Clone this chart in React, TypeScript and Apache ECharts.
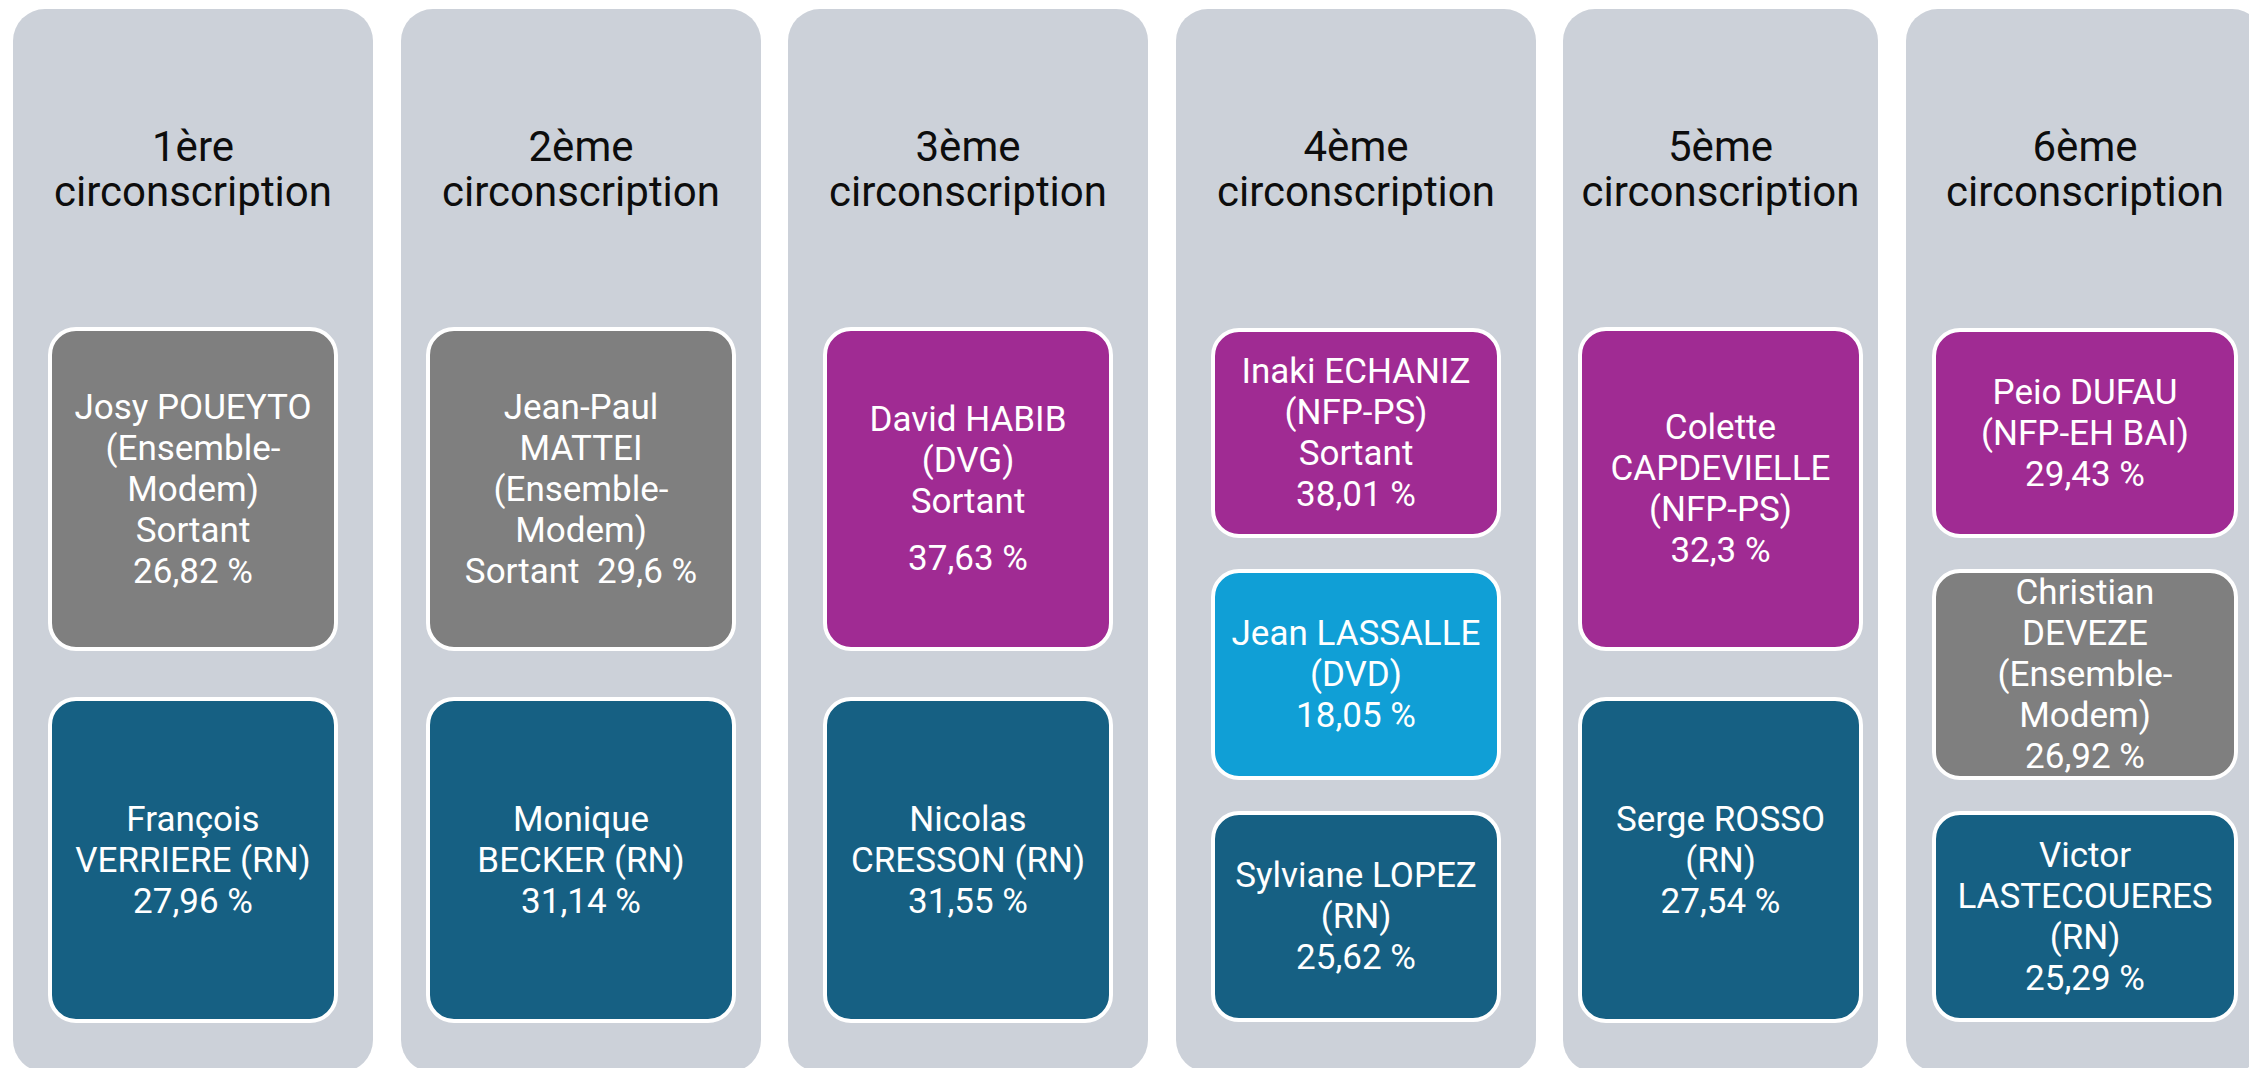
import React, { useEffect, useRef } from "react";
import * as echarts from "echarts";

// ---------- DATA ----------
const ordinals = ["1ère", "2ème", "3ème", "4ème", "5ème", "6ème"];
const districtWord = "circonscription";

// candidate text lines per district ("" = small spacer line)
const district1 = [
  ["Josy POUEYTO", "(Ensemble-", "Modem)", "Sortant", "26,82 %"],
  ["François", "VERRIERE (RN)", "27,96 %"],
];
const district2 = [
  ["Jean-Paul", "MATTEI", "(Ensemble-", "Modem)", "Sortant  29,6 %"],
  ["Monique", "BECKER (RN)", "31,14 %"],
];
const district3 = [
  ["David HABIB", "(DVG)", "Sortant", "", "37,63 %"],
  ["Nicolas", "CRESSON (RN)", "31,55 %"],
];
const district4 = [
  ["Inaki ECHANIZ", "(NFP-PS)", "Sortant", "38,01 %"],
  ["Jean LASSALLE", "(DVD)", "18,05 %"],
  ["Sylviane LOPEZ", "(RN)", "25,62 %"],
];
const district5 = [
  ["Colette", "CAPDEVIELLE", "(NFP-PS)", "32,3 %"],
  ["Serge ROSSO", "(RN)", "27,54 %"],
];
const district6 = [
  ["Peio DUFAU", "(NFP-EH BAI)", "29,43 %"],
  ["Christian", "DEVEZE", "(Ensemble-", "Modem)", "26,92 %"],
  ["Victor", "LASTECOUERES", "(RN)", "25,29 %"],
];
const districts = [district1, district2, district3, district4, district5, district6];

// party of each candidate (drives box colour)
const parties = [
  ["ENS", "RN"],
  ["ENS", "RN"],
  ["DVG", "RN"],
  ["NFP", "DVD", "RN"],
  ["NFP", "RN"],
  ["NFP", "ENS", "RN"],
];

// ---------- STYLE / LAYOUT ----------
const partyColor: Record<string, string> = {
  ENS: "#7f7f7f",
  RN: "#166083",
  DVG: "#a02b93",
  NFP: "#a02b93",
  DVD: "#109fd6",
};
const columnBg = "#ccd1d9";
const FONT = "Roboto, 'Open Sans', sans-serif";

const colX = [13, 401, 788, 1176, 1563, 1906];
const colW = [360, 360, 360, 360, 315, 358];
const boxInset = [35, 25, 35, 35, 15, 26];
const colTop = 9;
const colBottom = 1072;
const boxRows2 = [
  [327, 651],
  [697, 1023],
];
const boxRows3 = [
  [328, 538],
  [569, 780],
  [811, 1022],
];
const titleY1 = 146;
const titleY2 = 191;
const TITLE_SIZE = 42;
const LINE_H = 41;
const SPACER_H = 16;

function buildGraphics() {
  const els: any[] = [];
  districts.forEach((cands, ci) => {
    const x0 = colX[ci];
    const w = colW[ci];
    const cx = x0 + w / 2;
    els.push({
      type: "rect",
      shape: { x: x0, y: colTop, width: w, height: colBottom - colTop, r: 32 },
      style: { fill: columnBg },
      silent: true,
    });
    els.push({
      type: "text",
      x: cx,
      y: titleY1,
      style: { text: ordinals[ci], fill: "#0d0d0d", fontSize: TITLE_SIZE, fontFamily: FONT, align: "center", verticalAlign: "middle" },
    });
    els.push({
      type: "text",
      x: cx,
      y: titleY2,
      style: { text: districtWord, fill: "#0d0d0d", fontSize: TITLE_SIZE, fontFamily: FONT, align: "center", verticalAlign: "middle" },
    });
    const rows = cands.length === 3 ? boxRows3 : boxRows2;
    cands.forEach((lines, bi) => {
      const [y0, y1] = rows[bi];
      const bx = x0 + boxInset[ci];
      const bw = w - 2 * boxInset[ci];
      els.push({
        type: "rect",
        shape: { x: bx + 2, y: y0 + 2, width: bw - 4, height: y1 - y0 - 4, r: 26 },
        style: { fill: partyColor[parties[ci][bi]], stroke: "#ffffff", lineWidth: 4 },
      });
      const heights = lines.map((l) => (l === "" ? SPACER_H : LINE_H));
      const total = heights.reduce((a, b) => a + b, 0);
      let y = (y0 + y1) / 2 - total / 2;
      lines.forEach((l, li) => {
        const h = heights[li];
        if (l !== "") {
          els.push({
            type: "text",
            x: cx,
            y: y + h / 2,
            style: { text: l, fill: "#ffffff", fontSize: 35, fontFamily: FONT, align: "center", verticalAlign: "middle" },
          });
        }
        y += h;
      });
    });
  });
  return els;
}

export default function App() {
  const ref = useRef<HTMLDivElement>(null);
  useEffect(() => {
    if (!ref.current) return;
    const chart = echarts.init(ref.current, undefined, { renderer: "svg" });
    chart.setOption({
      animation: false,
      backgroundColor: "#ffffff",
      graphic: { elements: buildGraphics() },
    });
    return () => chart.dispose();
  }, []);
  return (
    <div
      ref={ref}
      style={{ position: "fixed", left: 0, top: 0, width: 2249, height: 1068, overflow: "hidden" }}
    />
  );
}
